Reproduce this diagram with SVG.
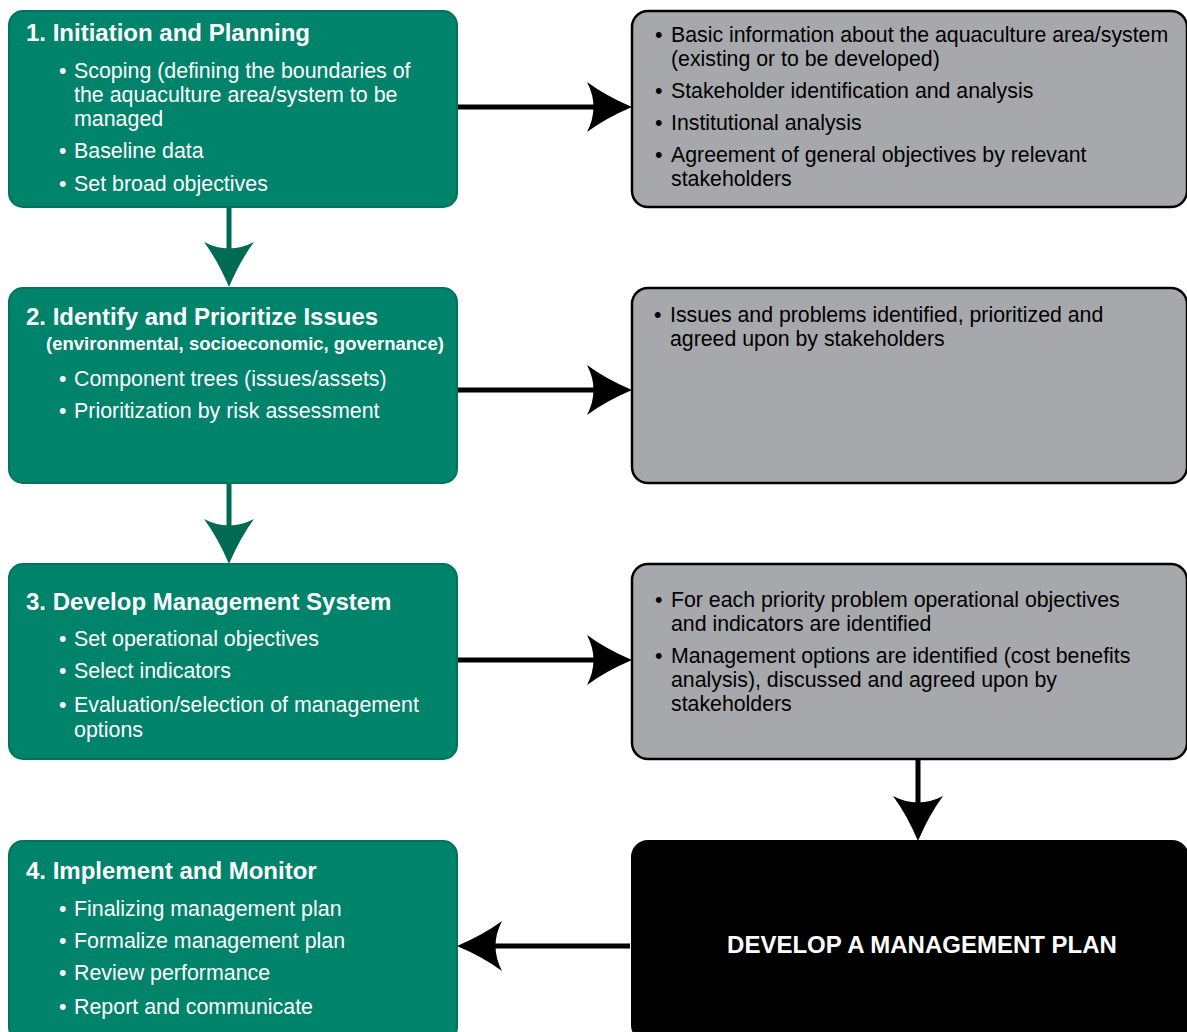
<svg xmlns="http://www.w3.org/2000/svg" width="1187" height="1032" viewBox="0 0 1187 1032">
<style>
.g{fill:#00836b;stroke:#00735c;stroke-width:2}
.gr{fill:#a7a8ab;stroke:#000;stroke-width:2.5}
.bk{fill:#000;stroke:#000;stroke-width:2}
text{font-family:"Liberation Sans",Arial,sans-serif}
.t{fill:#fff;font-size:24px;font-weight:bold}
.s{fill:#fff;font-size:18.5px;font-weight:bold}
.w{fill:#fff;font-size:21.4px}
.k{fill:#000;font-size:21.3px}
.cb{stroke:#000;stroke-width:5;fill:none}
.cg{stroke:#006b52;stroke-width:5;fill:none}
</style>
<defs>
<marker id="ab" markerUnits="userSpaceOnUse" viewBox="-47 -27 49 54" refX="-32" refY="0" markerWidth="49" markerHeight="54" orient="auto">
<path d="M0,0 Q-26,-11 -45,-25 Q-32,0 -45,25 Q-26,11 0,0Z" fill="#000"/>
</marker>
<marker id="ag" markerUnits="userSpaceOnUse" viewBox="-47 -27 49 54" refX="-32" refY="0" markerWidth="49" markerHeight="54" orient="auto">
<path d="M0,0 Q-26,-11 -45,-25 Q-32,0 -45,25 Q-26,11 0,0Z" fill="#006b52"/>
</marker>
</defs>
<g id="connectors">
<line class="cg" x1="229" y1="207" x2="229" y2="255" marker-end="url(#ag)"/>
<line class="cg" x1="229" y1="483" x2="229" y2="532" marker-end="url(#ag)"/>
<line class="cb" x1="455" y1="107" x2="600" y2="107" marker-end="url(#ab)"/>
<line class="cb" x1="455" y1="390" x2="600" y2="390" marker-end="url(#ab)"/>
<line class="cb" x1="455" y1="660" x2="600" y2="660" marker-end="url(#ab)"/>
<line class="cb" x1="918" y1="759" x2="918" y2="809" marker-end="url(#ab)"/>
<line class="cb" x1="630" y1="946" x2="489" y2="946" marker-end="url(#ab)"/>
</g>
<g id="step1">
<rect class="g" x="9" y="11" width="448" height="196" rx="14"/>
<text class="t" x="26" y="41">1. Initiation and Planning</text>
<text class="w" x="59" y="78">•</text><text class="w" x="74" y="78">Scoping (defining the boundaries of</text>
<text class="w" x="74" y="102">the aquaculture area/system to be</text>
<text class="w" x="74" y="126">managed</text>
<text class="w" x="59" y="158">•</text><text class="w" x="74" y="158">Baseline data</text>
<text class="w" x="59" y="191">•</text><text class="w" x="74" y="191">Set broad objectives</text>
</g>
<g id="step2">
<rect class="g" x="9" y="288" width="448" height="195" rx="14"/>
<text class="t" x="26" y="325">2. Identify and Prioritize Issues</text>
<text class="s" x="46" y="350">(environmental, socioeconomic, governance)</text>
<text class="w" x="59" y="386">•</text><text class="w" x="74" y="386">Component trees (issues/assets)</text>
<text class="w" x="59" y="418">•</text><text class="w" x="74" y="418">Prioritization by risk assessment</text>
</g>
<g id="step3">
<rect class="g" x="9" y="564" width="448" height="195" rx="14"/>
<text class="t" x="26" y="610">3. Develop Management System</text>
<text class="w" x="59" y="646">•</text><text class="w" x="74" y="646">Set operational objectives</text>
<text class="w" x="59" y="678">•</text><text class="w" x="74" y="678">Select indicators</text>
<text class="w" x="59" y="712">•</text><text class="w" x="74" y="712">Evaluation/selection of management</text>
<text class="w" x="74" y="737">options</text>
</g>
<g id="step4">
<rect class="g" x="9" y="841" width="448" height="200" rx="14"/>
<text class="t" x="26" y="879">4. Implement and Monitor</text>
<text class="w" x="59" y="916">•</text><text class="w" x="74" y="916">Finalizing management plan</text>
<text class="w" x="59" y="948">•</text><text class="w" x="74" y="948">Formalize management plan</text>
<text class="w" x="59" y="980">•</text><text class="w" x="74" y="980">Review performance</text>
<text class="w" x="59" y="1014">•</text><text class="w" x="74" y="1014">Report and communicate</text>
</g>
<g id="info1">
<rect class="gr" x="632" y="11" width="555" height="196" rx="16"/>
<text class="k" x="655" y="42">•</text><text class="k" x="671" y="42">Basic information about the aquaculture area/system</text>
<text class="k" x="671" y="66">(existing or to be developed)</text>
<text class="k" x="655" y="98">•</text><text class="k" x="671" y="98">Stakeholder identification and analysis</text>
<text class="k" x="655" y="130">•</text><text class="k" x="671" y="130">Institutional analysis</text>
<text class="k" x="655" y="162">•</text><text class="k" x="671" y="162">Agreement of general objectives by relevant</text>
<text class="k" x="671" y="186">stakeholders</text>
</g>
<g id="info2">
<rect class="gr" x="632" y="288" width="555" height="195" rx="16"/>
<text class="k" x="654" y="322">•</text><text class="k" x="670" y="322">Issues and problems identified, prioritized and</text>
<text class="k" x="670" y="346">agreed upon by stakeholders</text>
</g>
<g id="info3">
<rect class="gr" x="632" y="564" width="555" height="195" rx="16"/>
<text class="k" x="655" y="607">•</text><text class="k" x="671" y="607">For each priority problem operational objectives</text>
<text class="k" x="671" y="631">and indicators are identified</text>
<text class="k" x="655" y="663">•</text><text class="k" x="671" y="663">Management options are identified (cost benefits</text>
<text class="k" x="671" y="687">analysis), discussed and agreed upon by</text>
<text class="k" x="671" y="711">stakeholders</text>
</g>
<g id="plan">
<rect class="bk" x="632" y="841" width="556" height="200" rx="16"/>
<text class="t" x="922" y="953" text-anchor="middle">DEVELOP A MANAGEMENT PLAN</text>
</g>
</svg>
